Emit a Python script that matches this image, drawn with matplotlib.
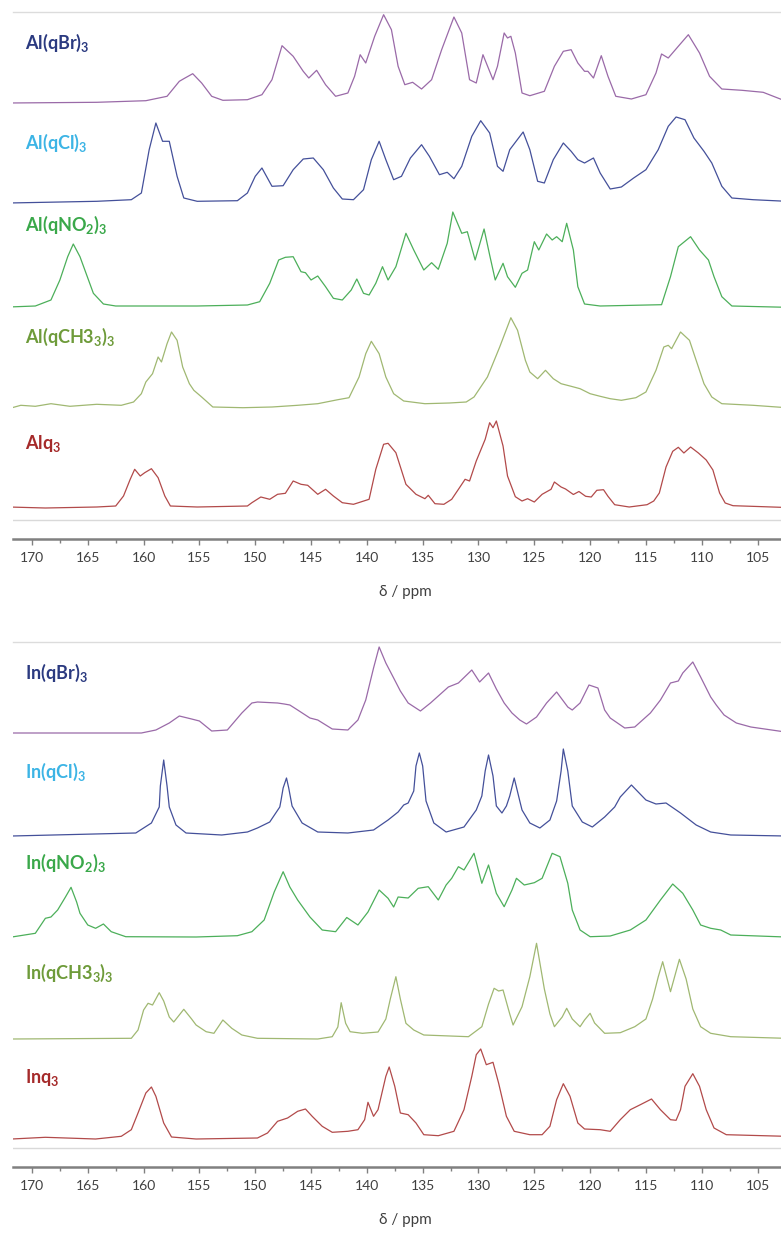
import matplotlib
matplotlib.use('Agg')
import matplotlib.pyplot as plt
from matplotlib.ticker import MultipleLocator

# ---- spectra: (ppm, height above trace baseline in px) ----
al_qbr = [(172.1, 0), (164.2, 0.7), (159.8, 2.3), (157.9, 6.7), (156.8, 21.7), (156.4, 24.3), (155.6, 29.3),
          (154.8, 20), (153.9, 6.7), (152.9, 2.7), (150.7, 3.3), (149.4, 8.3), (148.5, 23.3), (147.6, 57.3),
          (146.6, 46.7), (145.7, 31.7), (145.2, 25), (144.5, 32.7), (143.7, 18.3), (142.8, 6.7), (141.7, 10),
          (141.1, 26.7), (140.6, 48.3), (140.1, 40), (139.3, 66.7), (138.5, 88.3), (137.8, 73.3), (137.2, 36.7),
          (136.6, 18.3), (135.9, 20.7), (135.1, 14), (134.2, 23.3), (133.3, 53.3), (132.2, 86), (131.5, 70),
          (130.8, 23.3), (130.2, 20), (129.6, 48.3), (128.7, 23.3), (128.3, 36.7), (127.7, 70), (127.4, 65),
          (127.1, 66.7), (126.7, 50), (126.1, 10), (125.4, 7.3), (124.1, 11.7), (123.2, 36.7), (122.4, 51.7),
          (121.7, 53.3), (121.1, 40), (120.5, 31.7), (120.2, 31.7), (119.7, 25), (119.0, 47.3), (118.4, 26.7),
          (117.7, 6.7), (116.3, 4), (115.0, 8.3), (114.1, 30), (113.6, 49), (113.0, 45), (112.1, 56.7),
          (111.2, 68.3), (110.2, 50), (109.3, 26.7), (108.2, 14), (106.4, 12.7), (104.5, 10.7), (102.8, 3.3),
          (102.4, 2)]

al_qcl = [(172.1, 0), (164.2, 1.7), (161.1, 3.3), (160.2, 10), (159.5, 53.3), (158.9, 80), (158.3, 61.7),
          (157.7, 61.7), (157.0, 26.7), (156.4, 5), (155.2, 1.7), (151.6, 2.3), (150.7, 10), (150.0, 26.7),
          (149.4, 35), (148.5, 16.7), (147.5, 17.3), (146.6, 33.3), (145.7, 44), (144.8, 45), (143.9, 33.3),
          (143.0, 15), (142.2, 4), (141.2, 3.3), (140.3, 13.3), (139.6, 43.3), (138.9, 61.7), (138.3, 43.3),
          (137.6, 23.3), (136.9, 26.7), (136.1, 45), (135.1, 58.3), (134.4, 46.7), (133.5, 28.3), (132.8, 30.7),
          (132.2, 24.3), (131.5, 36.7), (130.6, 66.7), (129.8, 82.3), (129.0, 70), (128.3, 36.7), (127.8, 31.7),
          (127.2, 53.3), (126.0, 71), (125.4, 53.3), (124.7, 21.7), (124.1, 20), (123.3, 43.3), (122.4, 60),
          (121.7, 51.7), (121.1, 43.3), (120.5, 40), (119.7, 45), (119.1, 30), (118.2, 14), (117.2, 16),
          (116.1, 25), (115.0, 33.3), (113.9, 53.3), (113.0, 76.7), (112.3, 86), (111.5, 83.3), (110.7, 65),
          (109.8, 51.7), (109.1, 40), (108.2, 16.7), (107.3, 5), (105.4, 3.3), (102.4, 1.7)]

al_qno2 = [(172.1, -1), (169.7, 0), (168.3, 6), (167.5, 26), (166.8, 49.3), (166.3, 62), (165.7, 49.3),
           (165.1, 31), (164.5, 12.7), (163.6, 2), (162.5, 0), (155.2, 0), (150.7, 1), (149.6, 4.3), (148.7, 22.7),
           (147.9, 46), (147.3, 48.7), (146.6, 49.3), (145.9, 34.3), (145.5, 33.3), (145.0, 26), (144.4, 30),
           (143.7, 19.3), (143.0, 7.7), (142.2, 6), (141.4, 16), (140.9, 27), (140.3, 12.7), (139.8, 11),
           (139.2, 22.7), (138.6, 39.3), (138.1, 26), (137.4, 39.3), (136.5, 72.7), (135.8, 56), (134.9, 36),
           (134.2, 43.3), (133.6, 36.7), (132.8, 62.7), (132.3, 94), (131.5, 72.7), (131.0, 74.3), (130.3, 46),
           (129.5, 77), (129.0, 51), (128.5, 26), (127.8, 42.7), (127.4, 29.3), (126.7, 18.7), (126.1, 32.7),
           (125.6, 36), (125.0, 64.3), (124.6, 56), (123.9, 72), (123.4, 66), (123.0, 69.3), (122.5, 64.3),
           (122.1, 82.7), (121.5, 56), (121.1, 19.3), (120.5, 2), (119.1, 0), (113.6, 1.3), (112.8, 29.3),
           (112.1, 59.3), (111.0, 69.3), (110.2, 56), (109.4, 46), (108.9, 29.3), (108.2, 9.3), (107.3, 0),
           (102.4, -1.3)]

al_qch3 = [(172.1, -1.7), (171.0, 1.7), (169.7, 0.7), (168.3, 3.3), (166.6, 0.7), (164.2, 2.7), (162.0, 1.7),
           (160.9, 5), (160.2, 13.3), (159.8, 25), (159.2, 33.3), (158.7, 50), (158.4, 45), (157.9, 63.3),
           (157.5, 75), (157.0, 66.7), (156.5, 40), (155.9, 23.3), (155.5, 16.7), (154.8, 10), (153.8, 0),
           (151.1, -0.7), (148.5, 0), (146.2, 1.7), (144.4, 3.3), (142.6, 7.3), (141.6, 9.3), (140.7, 30),
           (140.1, 53.3), (139.6, 65.7), (138.9, 53.3), (138.3, 30), (137.6, 13.3), (136.7, 6), (134.8, 3.3),
           (132.6, 4), (131.1, 5), (130.4, 10), (129.2, 30), (128.1, 60), (127.1, 89.3), (126.5, 76.7),
           (125.8, 46.7), (125.4, 35), (124.7, 28.3), (124.0, 36.7), (123.3, 28.3), (122.6, 23.3), (121.7, 20.7),
           (120.9, 18.3), (120.0, 13.3), (119.1, 10.7), (118.2, 8.3), (117.2, 6.7), (115.9, 9.3), (115.0, 15),
           (114.1, 36.7), (113.4, 60), (113.0, 61.7), (112.7, 58.3), (111.9, 75), (111.1, 66.7), (110.4, 43.3),
           (109.8, 23.3), (109.1, 10), (108.2, 3.3), (105.4, 1.7), (102.4, -0.7)]

alq3 = [(172.1, 0), (168.8, -1), (164.2, 0), (162.5, 1), (161.8, 11), (161.2, 27.7), (160.8, 37.7), (160.3, 31),
        (159.9, 34.3), (159.3, 38.3), (158.7, 29.3), (158.1, 11), (157.6, 1), (155.2, 0), (150.7, 1), (150.3, 4.3),
        (149.5, 10), (148.7, 7.7), (148.0, 12.7), (147.3, 13.7), (146.6, 26), (145.9, 22.7), (145.3, 21.7),
        (144.4, 12.7), (143.7, 17.7), (143.0, 11), (142.2, 4.3), (141.2, 2.7), (139.8, 7.7), (139.2, 37.7),
        (138.5, 62.7), (138.1, 63.7), (137.4, 54.3), (136.5, 22.7), (135.6, 12.7), (134.8, 8.3), (134.5, 11.7),
        (133.9, 3.3), (133.1, 2.7), (132.4, 7.7), (131.7, 19.3), (131.2, 27.7), (130.8, 26), (130.2, 46),
        (129.4, 67.7), (129.0, 84.3), (128.7, 79.3), (128.4, 86), (127.8, 61), (127.4, 31), (126.7, 10.3),
        (126.1, 6), (125.6, 8.3), (125.0, 5), (124.3, 12.7), (123.5, 17.7), (123.2, 25), (122.6, 20),
        (122.2, 18), (121.5, 12.5), (121.0, 15.5), (120.4, 10.7), (119.9, 10), (119.4, 16.7), (118.8, 17.3),
        (118.4, 10.7), (117.8, 2.3), (116.5, 0), (114.9, 2.3), (114.3, 6), (113.8, 14), (113.2, 40),
        (112.6, 55.7), (112.1, 59.7), (111.6, 54), (111.0, 60), (110.3, 54), (109.6, 47), (109.0, 37),
        (108.4, 14), (107.9, 4), (107.2, 1.3), (105.0, 0.5), (102.4, -0.5)]

in_qbr = [(171.8, 0), (160.2, 0), (158.9, 3), (157.7, 10), (156.8, 17), (155.7, 14), (155.0, 12), (153.9, 2),
          (152.5, 3), (151.2, 20), (150.3, 30), (149.8, 31), (148.0, 30), (147.4, 29), (146.9, 28), (146.2, 23),
          (145.1, 15), (144.4, 13), (143.1, 4), (141.7, 3), (140.8, 13), (140.1, 33), (139.4, 65), (138.9, 86),
          (138.3, 70), (137.6, 55), (137.0, 42), (136.3, 30), (135.2, 22), (134.3, 30), (132.7, 46), (131.8, 50),
          (130.6, 63), (129.9, 51), (129.1, 60), (128.4, 44), (127.7, 30), (127.0, 20), (126.3, 13), (125.7, 9),
          (124.8, 16), (123.9, 30), (123.0, 41), (122.0, 26), (121.6, 23), (120.9, 30), (120.1, 48), (119.3, 45),
          (118.7, 23), (118.2, 15), (116.9, 5), (116.0, 6), (114.6, 20), (113.7, 33), (112.8, 50), (112.1, 52),
          (111.7, 60), (110.8, 71), (110.1, 56), (109.2, 36), (108.7, 28), (108.0, 18), (106.9, 10), (105.6, 6),
          (102.5, 1)]

in_qcl = [(171.8, 0), (160.7, 3), (159.3, 13), (158.6, 29), (158.5, 50), (158.2, 76), (157.9, 50), (157.7, 29),
          (157.1, 11), (156.2, 3), (153.0, 1), (150.7, 4), (149.8, 8), (148.7, 14), (147.8, 29), (147.7, 35),
          (147.5, 48), (147.2, 58), (147.0, 48), (146.7, 30), (145.8, 13), (144.4, 4), (141.7, 3), (139.4, 6),
          (138.1, 16), (137.2, 24), (136.7, 31), (136.3, 33), (135.8, 45), (135.6, 70), (135.3, 83), (135.0, 70),
          (134.7, 35), (134.0, 13), (132.9, 4), (131.3, 9), (130.2, 26), (129.7, 40), (129.4, 65), (129.1, 81),
          (128.7, 60), (128.4, 30), (127.9, 23), (127.5, 30), (127.2, 40), (126.8, 58), (126.3, 35), (126.1, 26),
          (125.4, 13), (124.5, 8), (123.6, 16), (123.0, 35), (122.6, 65), (122.4, 87), (122.0, 65), (121.6, 30),
          (120.7, 14), (119.8, 9), (118.7, 19), (117.8, 29), (117.3, 39), (116.3, 51), (115.0, 36), (114.1, 32),
          (113.2, 33), (111.9, 23), (110.5, 11), (109.2, 4), (107.4, 1), (102.5, 0)]

in_qno2 = [(171.8, 0), (169.7, 3.7), (168.8, 18.7), (168.3, 20), (167.7, 27), (167.0, 40), (166.5, 49.7),
           (166.0, 35), (165.7, 23.7), (165.0, 12), (164.3, 8.7), (163.6, 13), (162.9, 5.3), (161.6, 0.3),
           (155.3, 0), (151.6, 1.3), (150.3, 5.3), (149.2, 17), (148.3, 45), (147.5, 65.3), (146.9, 50),
           (146.2, 37), (145.1, 20), (144.0, 7), (142.8, 5.3), (141.8, 19.5), (140.8, 12), (139.9, 25),
           (138.9, 47), (138.1, 38.7), (137.6, 30), (137.2, 40), (136.3, 39), (135.4, 48.7), (134.5, 50.3),
           (133.6, 37), (132.9, 52), (132.4, 58.7), (131.8, 70.3), (131.3, 67), (130.4, 83.7), (129.7, 53.7),
           (129.1, 72), (128.4, 43.7), (127.7, 30.3), (127.0, 47), (126.6, 58.7), (125.9, 52), (125.0, 54.3),
           (124.3, 58.7), (123.4, 83.7), (122.7, 80.3), (122.0, 53.7), (121.6, 27), (120.9, 7), (120.0, 0.3),
           (118.2, 1), (116.4, 7), (115.0, 17), (113.7, 37), (112.6, 53), (111.7, 43.7), (110.8, 27),
           (110.1, 12), (109.2, 8.7), (108.3, 7), (107.4, 2), (102.5, 0)]

in_qch3 = [(171.8, 0), (161.1, 0.7), (160.5, 9), (160.0, 29), (159.6, 35.7), (159.2, 34), (158.6, 46.3),
           (158.2, 38), (157.7, 22), (157.3, 17), (156.4, 29.7), (155.7, 20), (155.3, 14), (154.4, 7.3),
           (153.7, 5.7), (152.9, 19), (152.1, 10.7), (151.2, 4), (149.8, 0.7), (144.4, 0), (143.1, 2.3),
           (142.6, 12), (142.3, 36.3), (141.9, 15.7), (141.5, 7.3), (140.4, 5.7), (139.0, 7), (138.3, 20),
           (137.9, 40), (137.4, 62.3), (137.0, 40), (136.5, 15.7), (135.8, 9), (134.9, 4), (130.9, 2.3),
           (129.7, 12.3), (129.1, 35), (128.6, 50.7), (128.2, 48), (127.8, 49), (127.2, 25), (126.9, 14),
           (126.1, 32.3), (125.4, 62.3), (124.8, 95.7), (124.1, 50), (123.6, 25), (123.2, 12.3), (122.5, 22),
           (122.1, 30.7), (121.6, 20), (120.9, 12.3), (120.5, 19), (120.0, 25.7), (119.6, 16), (118.7, 5.7),
           (117.3, 6.3), (116.0, 12.3), (115.0, 20), (114.4, 40), (113.9, 62), (113.5, 77.3), (112.8, 47.3),
           (112.0, 79.7), (111.4, 60), (110.8, 30), (110.1, 12.3), (109.2, 5.7), (107.4, 2.3), (102.5, 0.7)]

inq3 = [(171.8, 0), (168.8, 1.7), (164.3, 0), (162.0, 2.7), (161.1, 9.3), (160.5, 26), (159.8, 46), (159.3, 52),
        (158.9, 42.7), (158.2, 16), (157.5, 2), (155.3, 0), (149.8, 1), (148.9, 6), (148.0, 17.7), (147.1, 21),
        (146.2, 27.7), (145.5, 30), (144.9, 22.7), (144.0, 12.7), (143.1, 6.7), (141.7, 7.7), (140.8, 9.3),
        (140.2, 19.3), (139.9, 36.7), (139.4, 22.7), (139.0, 29.3), (138.3, 62.7), (138.0, 72), (137.5, 52.7),
        (137.0, 26), (136.3, 24.3), (135.6, 16), (134.9, 4.3), (133.6, 3.3), (132.2, 7.7), (131.3, 29.3),
        (130.6, 62.7), (130.2, 84.3), (129.8, 90), (129.3, 74.3), (128.7, 76.7), (128.2, 56), (127.5, 22.7),
        (126.8, 7.7), (125.4, 4.3), (124.3, 4.3), (123.6, 12.7), (123.0, 39.3), (122.4, 55.3), (121.8, 42.7),
        (121.1, 16), (120.5, 10), (119.1, 9.3), (118.2, 7.7), (117.3, 19.3), (116.4, 29.3), (115.5, 34.3),
        (114.5, 40), (113.7, 29.3), (112.8, 19.3), (112.3, 18.7), (111.9, 29.3), (111.5, 52.7), (110.8, 65.3),
        (110.2, 52.7), (109.6, 29.3), (108.9, 11), (107.8, 4.3), (102.5, 2.7)]

al_names = [r'Al(qBr)$_\mathbf{3}$', r'Al(qCl)$_\mathbf{3}$', r'Al(qNO$_\mathbf{2}$)$_\mathbf{3}$',
            r'Al(qCH3$_\mathbf{3}$)$_\mathbf{3}$', r'Alq$_\mathbf{3}$']
in_names = [r'In(qBr)$_\mathbf{3}$', r'In(qCl)$_\mathbf{3}$', r'In(qNO$_\mathbf{2}$)$_\mathbf{3}$',
            r'In(qCH3$_\mathbf{3}$)$_\mathbf{3}$', r'Inq$_\mathbf{3}$']
tick_ppm = list(range(105, 171, 5))

# colours: trace / label per ligand
line_colors = ['#9a6aa8', '#44509a', '#4caf5a', '#a0b872', '#b24a4a']
label_colors = ['#2b3a80', '#3cb4e5', '#3aa84a', '#6e9b3a', '#a52a2a']

plt.rcParams['font.family'] = ['Lato', 'DejaVu Sans']
plt.rcParams['mathtext.fontset'] = 'custom'
plt.rcParams['mathtext.rm'] = 'Lato'
plt.rcParams['mathtext.bf'] = 'Lato:bold'

W, H = 781, 1233
fig = plt.figure(figsize=(W / 100, H / 100), dpi=100)


def panel(top, bottom, traces, names, base_px, label_px):
    ax = fig.add_axes([13 / W, 1 - bottom / H, 1 - 13 / W, (bottom - top) / H])
    ax.set_xlim(171.7, 102.9)
    ax.set_ylim(0, bottom - top)
    for tr, name, b, ly, lc, tc in zip(traces, names, base_px, label_px, line_colors, label_colors):
        xs = [p for p, h in tr]
        ys = [bottom - b + h for p, h in tr]
        ax.plot(xs, ys, color=lc, lw=0.9)
        ax.text(170.6, bottom - ly, name, color=tc, fontsize=13, fontweight='bold',
                ha='left', va='center')
    # thin grey rule just under the lowest trace
    ax.axhline(19, color='#d9d9d9', lw=1)
    for s in ['left', 'right']:
        ax.spines[s].set_visible(False)
    ax.spines['top'].set_color('#dcdcdc')
    ax.spines['top'].set_linewidth(1)
    ax.spines['bottom'].set_color('#808080')
    ax.spines['bottom'].set_linewidth(1.8)
    ax.set_yticks([])
    ax.set_xticks(tick_ppm)
    ax.xaxis.set_minor_locator(MultipleLocator(2.5))
    ax.tick_params(axis='x', which='major', length=4, width=1, color='#808080',
                   labelsize=10, labelcolor='#404040', pad=5)
    ax.tick_params(axis='x', which='minor', length=3, width=1, color='#808080')
    fig.text(405 / W, 1 - (bottom + 53) / H, 'δ / ppm', ha='center', va='center',
             fontsize=11, color='#404040')
    return ax


panel(12, 539, [al_qbr, al_qcl, al_qno2, al_qch3, alq3], al_names,
      [103, 203, 306, 407, 507], [43, 143, 225, 337, 443])
panel(642, 1167, [in_qbr, in_qcl, in_qno2, in_qch3, inq3], in_names,
      [733, 836, 937, 1039, 1139], [673, 772, 863, 973, 1078])

fig.savefig('out.png', dpi=100)
